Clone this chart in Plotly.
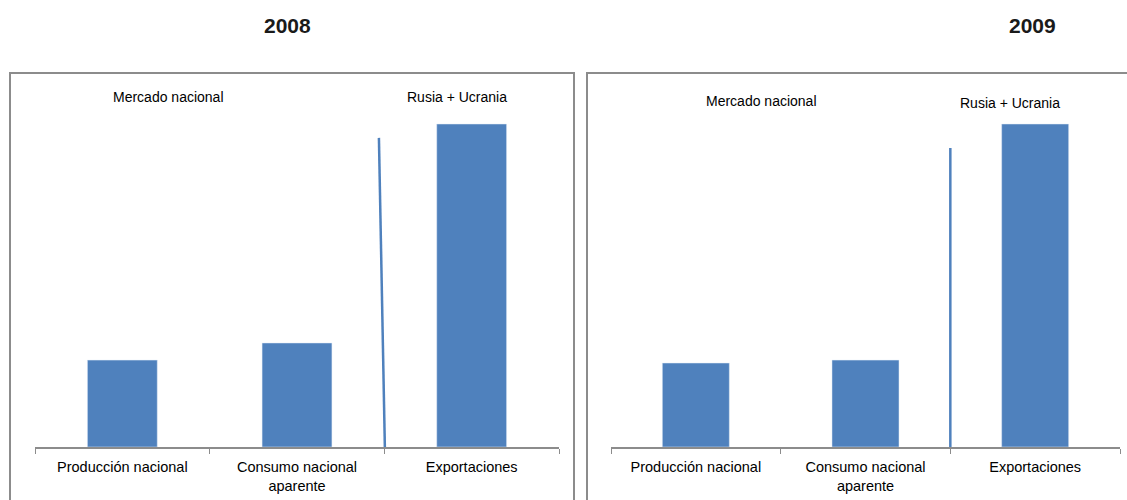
import plotly.graph_objects as go

# ---- data (relative volumes; Exportaciones = 100) ----
categories = ["Producción nacional", "Consumo nacional<br>aparente", "Exportaciones"]
values_2008 = [26.9, 32.2, 100.0]
values_2009 = [26.0, 26.9, 100.0]
years = ["2008", "2009"]
group_labels = ["Mercado nacional", "Rusia + Ucrania"]

BAR = "#4F81BD"
GRID = "#8C8C8C"
FONT = "Liberation Sans, Arial, sans-serif"
W, H = 1127, 500

def px_x(p):
    return p / W

def px_y(p):
    return (H - p) / H

fig = go.Figure()
fig.add_trace(go.Bar(x=categories, y=values_2008, marker_color=BAR, width=0.40,
                     xaxis="x", yaxis="y", showlegend=False, hoverinfo="x+y"))
fig.add_trace(go.Bar(x=categories, y=values_2009, marker_color=BAR, width=0.395,
                     xaxis="x2", yaxis="y2", showlegend=False, hoverinfo="x+y"))

xcommon = dict(type="category", showline=True, linecolor=GRID, linewidth=1.5,
               ticks="outside", tickson="boundaries", ticklen=5, tickwidth=1.2,
               tickcolor=GRID, showgrid=False, zeroline=False, range=[-0.5, 2.5],
               ticklabelstandoff=6,
               tickfont=dict(family=FONT, size=14.5, color="#000000"), fixedrange=True)
ycommon = dict(visible=False, range=[0, 110], showgrid=False, zeroline=False,
               domain=[px_y(447), px_y(91.7)], fixedrange=True)

fig.update_layout(
    width=W, height=H,
    margin=dict(l=0, r=0, t=0, b=0, pad=0),
    paper_bgcolor="white", plot_bgcolor="white",
    bargap=0.6,
    xaxis=dict(domain=[px_x(35), px_x(559)], anchor="y", **xcommon),
    xaxis2=dict(domain=[px_x(611), px_x(1120)], anchor="y2", **xcommon),
    yaxis=dict(anchor="x", **ycommon),
    yaxis2=dict(anchor="x2", **ycommon),
)

shapes = [
    # panel frames
    dict(type="rect", xref="paper", yref="paper", x0=px_x(10), x1=px_x(574),
         y0=-0.02, y1=px_y(73), line=dict(color=GRID, width=2), layer="below"),
    dict(type="rect", xref="paper", yref="paper", x0=px_x(587), x1=1.02,
         y0=-0.02, y1=px_y(73), line=dict(color=GRID, width=2), layer="below"),
    # separator lines between national market and exports
    dict(type="line", xref="x", yref="y", x0=1.503, y0=0, x1=1.469, y1=95.7,
         line=dict(color=BAR, width=2.5)),
    dict(type="line", xref="x2", yref="y2", x0=1.5, y0=0, x1=1.5, y1=92.6,
         line=dict(color=BAR, width=2.5)),
]
fig.update_layout(shapes=shapes)

ann = []
# year titles
for yr, xp in zip(years, [287, 1032]):
    ann.append(dict(text=f"<b>{yr}</b>", xref="paper", yref="paper", x=px_x(xp), y=px_y(25),
                    xanchor="center", yanchor="middle", showarrow=False,
                    font=dict(family=FONT, size=21, color="#1a1a1a")))
# group labels
for (txt, xp, yp) in [(group_labels[0], 168, 97), (group_labels[1], 457, 97),
                      (group_labels[0], 761, 101), (group_labels[1], 1010, 103)]:
    ann.append(dict(text=txt, xref="paper", yref="paper", x=px_x(xp), y=px_y(yp),
                    xanchor="center", yanchor="middle", showarrow=False,
                    font=dict(family=FONT, size=14, color="#000000")))
fig.update_layout(annotations=ann)

fig.write_html("out.html")
